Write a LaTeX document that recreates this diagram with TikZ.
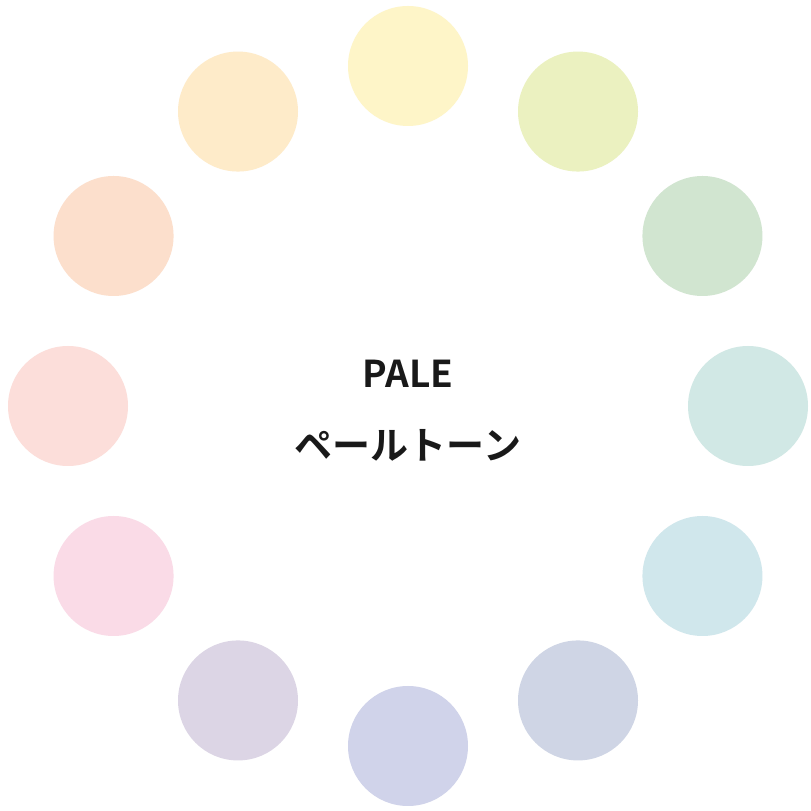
\documentclass[tikz,border=0pt]{standalone}
\usepackage{fontspec}
\usetikzlibrary{calc}
\newfontfamily\jpfont{Noto Sans CJK JP Bold}
\definecolor{c1}{HTML}{FEF5C8}
\definecolor{c2}{HTML}{EBF1C0}
\definecolor{c3}{HTML}{D1E5D0}
\definecolor{c4}{HTML}{D1E8E5}
\definecolor{c5}{HTML}{D0E7EC}
\definecolor{c6}{HTML}{CFD5E5}
\definecolor{c7}{HTML}{D0D3EA}
\definecolor{c8}{HTML}{DCD5E5}
\definecolor{c9}{HTML}{FADBE7}
\definecolor{c10}{HTML}{FCDEDA}
\definecolor{c11}{HTML}{FCDFCC}
\definecolor{c12}{HTML}{FEEBC9}
\tikzset{dot/.style={circle,inner sep=0pt,minimum size=120pt,draw=none}}
\begin{document}
\begin{tikzpicture}[x=1pt,y=1pt]
\useasboundingbox[fill=white] (0,0) rectangle (811,811);
\coordinate (o) at (408,405);
\foreach \i/\c in {0/c1,1/c2,2/c3,3/c4,4/c5,5/c6,6/c7,7/c8,8/c9,9/c10,10/c11,11/c12}{
  \node[dot,fill=\c] (d\i) at ($(o)+({90-30*\i}:340)$) {};
}
\node[font=\jpfont\fontsize{37}{37}\selectfont,text=black!90,inner sep=0pt] (t1) at (408,437) {PALE};
\node[font=\jpfont\fontsize{38}{38}\selectfont,text=black!90] (t2) at (408,366) {ペールトーン};
\end{tikzpicture}
\end{document}
